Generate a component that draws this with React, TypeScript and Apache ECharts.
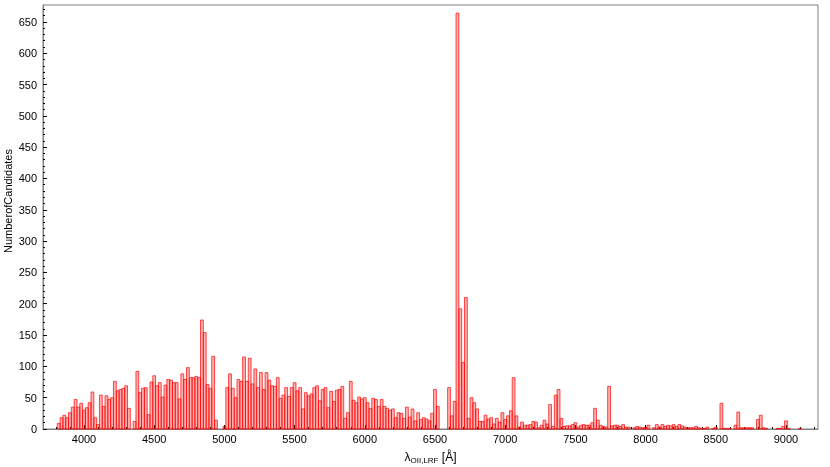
import React, { useEffect, useRef } from "react";
import * as echarts from "echarts";

// Histogram bins: 20 Å wide, first bin centred at 3820 Å
const binFirstCenter = 3820;
const binWidth = 20;

// counts per bin, split by wavelength ranges
const counts3820to4800 = [
  9, 18, 22, 18, 26, 35, 47, 35, 41, 30, 34, 42, 59, 18, 7, 54, 36, 53, 47, 50,
  76, 61, 63, 65, 69, 33, 0, 12, 92, 58, 65, 66, 23, 75, 85, 69, 74, 51, 70, 79,
  78, 74, 74, 48, 88, 79, 98, 82, 82, 84,
];
const counts4820to5800 = [
  82, 174, 154, 71, 65, 116, 14, 0, 0, 4, 66, 88, 65, 50, 79, 76, 115, 76, 113, 72,
  96, 66, 90, 63, 90, 78, 69, 68, 82, 49, 54, 66, 52, 66, 74, 61, 66, 32, 58, 53,
  56, 66, 69, 45, 63, 66, 34, 60, 44, 62,
];
const counts5820to6800 = [
  63, 68, 17, 26, 76, 46, 42, 51, 48, 50, 42, 33, 49, 47, 36, 47, 36, 33, 30, 32,
  18, 26, 25, 17, 35, 19, 32, 13, 26, 15, 18, 16, 13, 25, 63, 36, 0, 0, 0, 66,
  21, 44, 664, 192, 106, 210, 17, 50, 42, 32,
];
const counts6820to7800 = [
  12, 12, 22, 16, 18, 8, 17, 11, 26, 15, 21, 29, 82, 21, 3, 11, 6, 6, 7, 12,
  11, 2, 6, 14, 8, 39, 4, 54, 63, 17, 4, 5, 5, 7, 10, 3, 6, 7, 6, 6,
  10, 33, 14, 6, 4, 3, 68, 5, 6, 6,
];
const counts7820to9100 = [
  4, 7, 3, 3, 0, 2, 4, 3, 2, 3, 6, 0, 2, 7, 3, 7, 4, 6, 5, 7,
  4, 7, 5, 3, 2, 2, 2, 4, 2, 1, 1, 3, 0, 1, 3, 0, 41, 1, 1, 1,
  0, 6, 27, 2, 2, 2, 2, 2, 0, 15, 22, 2, 1, 0, 0, 0, 1, 1, 4, 13,
  1, 0, 0, 0, 1,
];

const xMajorTicks = [4000, 4500, 5000, 5500, 6000, 6500, 7000, 7500, 8000, 8500, 9000];
const yMajorTicks = [0, 50, 100, 150, 200, 250, 300, 350, 400, 450, 500, 550, 600, 650];

const xMin = 3708;
const xMax = 9228;
const yMin = 0;
const yMax = 677;

const xLabel = "λ";
const xLabelSub = "OII,LRF";
const xLabelUnit = " [Å]";
const yLabel = "NumberofCandidates";

export default function App() {
  const ref = useRef<HTMLDivElement>(null);

  useEffect(() => {
    if (!ref.current) return;
    const chart = echarts.init(ref.current, null, { renderer: "svg" });

    const counts = [
      ...counts3820to4800,
      ...counts4820to5800,
      ...counts5820to6800,
      ...counts6820to7800,
      ...counts7820to9100,
    ];
    const data = counts.map((c, i) => [binFirstCenter + i * binWidth, c]);

    const xMinor: number[] = [];
    for (let v = 3800; v <= 9200; v += 100) xMinor.push(v);
    const yMinor: number[] = [];
    for (let v = 0; v <= 670; v += 10) yMinor.push(v);

    const axisColor = "#808080";
    const font = "Liberation Sans, DejaVu Sans, sans-serif";

    chart.setOption({
      animation: false,
      grid: {
        left: 43,
        right: 12,
        top: 5,
        bottom: 38,
        show: true,
        borderColor: axisColor,
        borderWidth: 1,
        backgroundColor: "transparent",
        outerBoundsMode: "none",
      },
      graphic: [
        {
          type: "text",
          x: 8,
          y: 201,
          rotation: Math.PI / 2,
          style: {
            text: yLabel,
            fontSize: 11,
            fontFamily: font,
            fill: "#000",
            align: "center",
            verticalAlign: "middle",
          },
        },
      ],
      xAxis: [
        {
          type: "value",
          min: xMin,
          max: xMax,
          position: "bottom",
          splitLine: { show: false },
          axisLine: { show: true, lineStyle: { color: axisColor, width: 1 } },
          axisTick: {
            show: true,
            inside: true,
            length: 4,
            customValues: xMajorTicks,
            lineStyle: { color: "#000" },
          },
          axisLabel: {
            customValues: xMajorTicks,
            color: "#000",
            fontSize: 11,
            fontFamily: font,
            margin: 4,
            formatter: (v: number) => String(v),
          },
          name: `{l|${xLabel}}{s|${xLabelSub}}{l|${xLabelUnit}}`,
          nameLocation: "middle",
          nameGap: 21,
          nameTextStyle: {
            rich: {
              l: { fontSize: 12, fontFamily: font, color: "#000" },
              s: { fontSize: 8, fontFamily: font, color: "#000", verticalAlign: "bottom", padding: [6, 0, 0, 0] },
            },
          },
        },
        {
          type: "value",
          min: xMin,
          max: xMax,
          position: "bottom",
          splitLine: { show: false },
          axisLine: { show: false },
          axisTick: {
            show: true,
            inside: true,
            length: 2,
            customValues: xMinor,
            lineStyle: { color: "#000" },
          },
          axisLabel: { show: false },
        },
      ],
      yAxis: [
        {
          type: "value",
          min: yMin,
          max: yMax,
          position: "left",
          splitLine: { show: false },
          axisLine: { show: true, lineStyle: { color: axisColor, width: 1 } },
          axisTick: {
            show: true,
            inside: true,
            length: 4,
            customValues: yMajorTicks,
            lineStyle: { color: "#000" },
          },
          axisLabel: {
            customValues: yMajorTicks,
            color: "#000",
            fontSize: 11,
            fontFamily: font,
            margin: 6,
            formatter: (v: number) => String(v),
          },
        },
        {
          type: "value",
          min: yMin,
          max: yMax,
          position: "left",
          splitLine: { show: false },
          axisLine: { show: false },
          axisTick: {
            show: true,
            inside: true,
            length: 2,
            customValues: yMinor,
            lineStyle: { color: "#000" },
          },
          axisLabel: { show: false },
        },
      ],
      series: [
        {
          type: "custom",
          xAxisIndex: 0,
          yAxisIndex: 0,
          data,
          renderItem: (params: any, api: any) => {
            const c = api.value(0);
            const v = api.value(1);
            if (v <= 0) return null;
            const p0 = api.coord([c - binWidth / 2, v]);
            const p1 = api.coord([c + binWidth / 2, 0]);
            return {
              type: "rect",
              shape: { x: p0[0], y: p0[1], width: p1[0] - p0[0], height: p1[1] - p0[1] },
              style: {
                fill: "rgba(255,0,0,0.3)",
                stroke: "rgba(255,0,0,0.7)",
                lineWidth: 1,
              },
            };
          },
        },
      ],
    });

    return () => chart.dispose();
  }, []);

  return (
    <div
      ref={ref}
      style={{ position: "fixed", left: 0, top: 0, width: 830, height: 467 }}
    />
  );
}
